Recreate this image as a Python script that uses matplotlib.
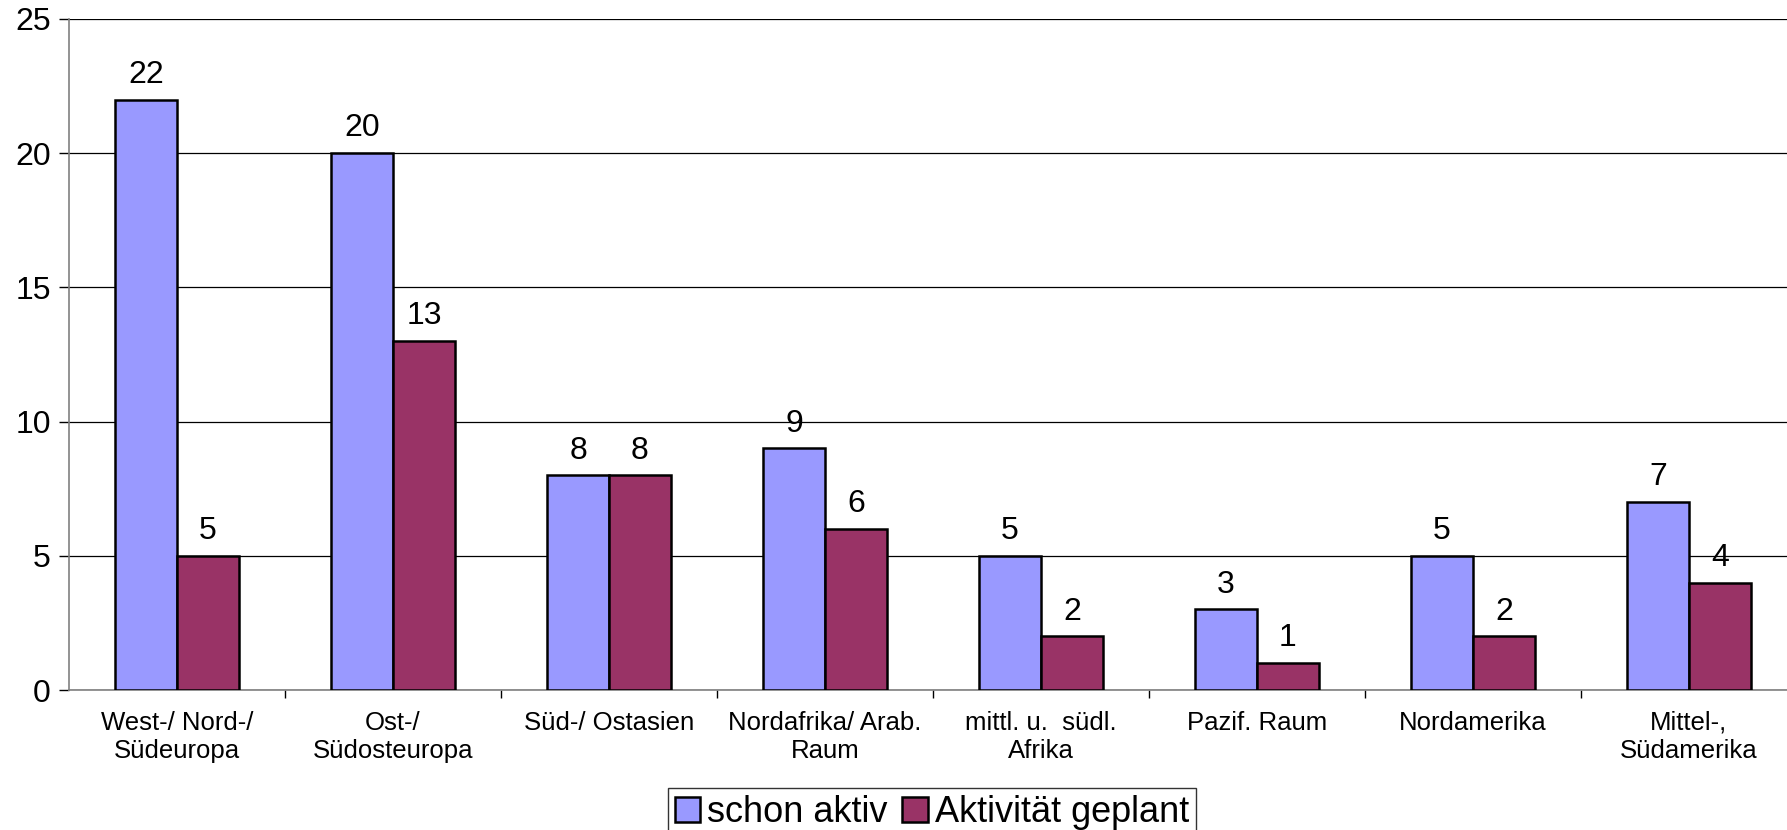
import matplotlib
matplotlib.use("Agg")
import matplotlib.pyplot as plt
import numpy as np

categories = ["West-/ Nord-/\nSüdeuropa", "Ost-/\nSüdosteuropa", "Süd-/ Ostasien",
              "Nordafrika/ Arab.\nRaum", "mittl. u.  südl.\nAfrika", "Pazif. Raum",
              "Nordamerika", "Mittel-,\nSüdamerika"]
schon_aktiv = [22, 20, 8, 9, 5, 3, 5, 7]
geplant = [5, 13, 8, 6, 2, 1, 2, 4]
series_names = ["schon aktiv", "Aktivität geplant"]
yticks = [0, 5, 10, 15, 20, 25]

plt.rcParams['font.family'] = ['Liberation Sans', 'DejaVu Sans']

W, H = 1787, 830
fig = plt.figure(figsize=(W/100, H/100), dpi=100)
ax = fig.add_axes([69/W, (H-690)/H, 1728/W, 671/H])

x = np.arange(len(categories))
bw = 0.287
b1 = ax.bar(x - bw/2, schon_aktiv, bw, color="#9999FF", edgecolor="black", linewidth=1.8,
            label=series_names[0], zorder=3)
b2 = ax.bar(x + bw/2, geplant, bw, color="#993366", edgecolor="black", linewidth=1.8,
            label=series_names[1], zorder=3)
for bars, vals in ((b1, schon_aktiv), (b2, geplant)):
    for r, v in zip(bars, vals):
        ax.annotate(str(v), (r.get_x() + r.get_width()/2, v), xytext=(0, 7),
                    textcoords="offset points", ha="center", va="bottom", fontsize=23)

ax.set_xlim(-0.5, len(categories) - 0.5)
ax.set_ylim(0, 25)
ax.set_yticks(yticks)
ax.tick_params(axis='y', labelsize=23, length=7, width=1, pad=6)
ax.set_xticks(x)
ax.set_xticklabels(categories, fontsize=18.5, linespacing=1.22)
ax.tick_params(axis='x', which='major', length=0, pad=15)
ax.set_xticks(np.arange(len(categories)) + 0.5, minor=True)
ax.tick_params(axis='x', which='minor', length=6, width=1)
ax.yaxis.grid(True, color="black", linewidth=0.9, zorder=0)
ax.set_axisbelow(True)
for s in ("top", "right"):
    ax.spines[s].set_visible(False)
ax.spines["left"].set_color("#808080")
ax.spines["left"].set_linewidth(1.2)
ax.spines["bottom"].set_color("#808080")
ax.spines["bottom"].set_linewidth(1.2)

leg = fig.legend(handles=[b1, b2], loc="upper center", bbox_to_anchor=(932/W, (H-788)/H),
                 ncol=2, fontsize=26, frameon=True, fancybox=False, edgecolor="black",
                 handlelength=0.7, handleheight=0.7, handletextpad=0.2, columnspacing=0.4,
                 borderpad=0.2, borderaxespad=0)
leg.get_frame().set_linewidth(1.0)

fig.savefig("out.png", dpi=100)
